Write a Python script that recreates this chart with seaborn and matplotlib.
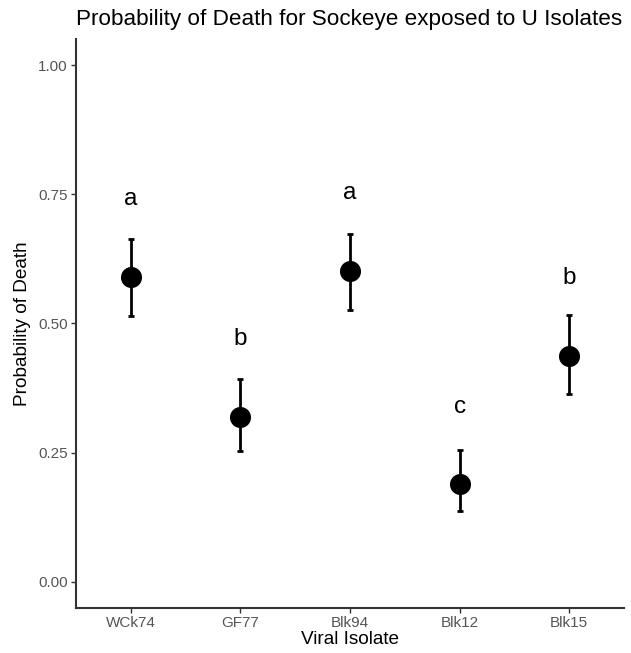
import matplotlib
matplotlib.use("Agg")
import matplotlib.pyplot as plt
import seaborn as sns
import pandas as pd
import numpy as np

# Estimated probability of death by viral isolate, with confidence limits
isolates = ["WCk74", "GF77", "Blk94", "Blk12", "Blk15"]
prob = [0.590, 0.319, 0.602, 0.189, 0.437]
lower = [0.514, 0.253, 0.526, 0.137, 0.363]
upper = [0.663, 0.392, 0.673, 0.255, 0.516]
groups = ["a", "b", "a", "c", "b"]
yticks = [0.00, 0.25, 0.50, 0.75, 1.00]

df = pd.DataFrame({"isolate": isolates, "prob": prob,
                   "lower": lower, "upper": upper, "group": groups})

sns.set_theme(style="ticks")
plt.rcParams["font.family"] = ["Liberation Sans", "DejaVu Sans"]

fig = plt.figure(figsize=(6.31, 6.53), dpi=100)
ax = fig.add_axes([76 / 631, 1 - 607.5 / 653, (624 - 76) / 631, (607.5 - 39.2) / 653])

xpos = np.arange(len(df))
ax.errorbar(xpos, df["prob"],
            yerr=[df["prob"] - df["lower"], df["upper"] - df["prob"]],
            fmt="none", ecolor="black", elinewidth=2.0, capsize=2.2,
            capthick=2.0, zorder=2)
sns.scatterplot(data=df, x="isolate", y="prob", color="black", s=230,
                edgecolor="black", linewidth=0, ax=ax, zorder=3, legend=False)

# significance group letters above each estimate
for i, row in df.iterrows():
    ax.text(i, row["prob"] + 0.15, row["group"], ha="center", va="center",
            fontsize=17.5, color="black")

ax.set_xlim(-0.5, len(df) - 0.5)
ax.set_ylim(-0.05, 1.05)
ax.set_yticks(yticks)
ax.set_yticklabels([f"{v:.2f}" for v in yticks])
ax.set_xticks(xpos)
ax.set_xticklabels(isolates)

for side in ["left", "bottom"]:
    ax.spines[side].set_color("#333333")
    ax.spines[side].set_linewidth(1.5)
for side in ["top", "right"]:
    ax.spines[side].set_visible(False)

ax.tick_params(axis="both", colors="#333333", length=3.5, width=1.0,
               labelsize=11, labelcolor="#555555", pad=2.5)

ax.set_xlabel("Viral Isolate", fontsize=13.7, color="black", labelpad=1)
ax.set_ylabel("Probability of Death", fontsize=13.7, color="black", labelpad=5)

fig.text(76 / 631, 1 - 19 / 653, "Probability of Death for Sockeye exposed to U Isolates",
         ha="left", va="center", fontsize=16.2, color="black")

fig.savefig("out.png", dpi=100, facecolor="white")
